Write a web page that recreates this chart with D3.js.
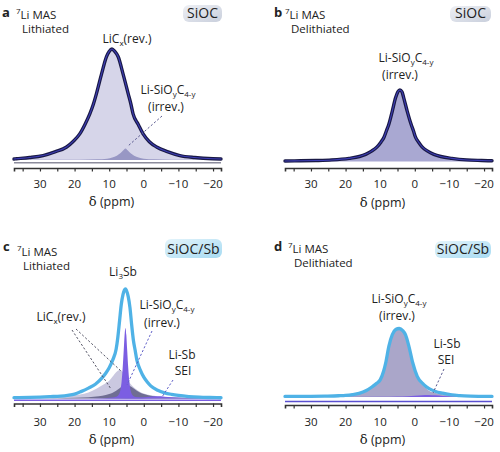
<!DOCTYPE html>
<html><head><meta charset="utf-8">
<script src="https://cdn.jsdelivr.net/npm/d3@7"></script>
<style>body{margin:0;background:#fff}svg{display:block}text{font-family:'Open Sans',sans-serif;fill:#222}</style>
</head><body><svg id="fig" width="500" height="452"></svg>
<script>
// ---------- data ----------
const ppmDomain = [37.5, -22.3];
const minorTicks = [35, 30, 25, 20, 15, 10, 5, 0, -5, -10, -15, -20];
const majorTicks = [30, 20, 10, 0, -10, -20];
const tickLabels = ["30", "20", "10", "0", "\u221210", "\u221220"];

// panel a : SiOC lithiated  [ppm, intensity]
const aTotal = [[37.5,0.9],[36.8,1.1],[33,2.2],[29.1,4],[25.5,7.5],[22.3,11.7],[20.5,16.5],[18.5,23.5],[17,32],[15.6,41.5],[14.6,50],[13.7,59.6],[12.2,77.6],[10.8,93],[10,97.8],[9.2,100],[8.4,97.8],[7.4,93],[6,77.6],[4.5,59.6],[3.7,50],[3.1,41.5],[1.6,32],[0.2,23.5],[-1.6,16.5],[-3.7,11.7],[-6.8,7.5],[-10.4,4],[-14.7,2.2],[-20,1.1],[-22.3,0.9]];
const aLiCx = [[37.5,0.9],[36.8,1.1],[33,2.2],[29.1,4],[25.5,7.5],[22.3,11.7],[20.5,16.5],[18.5,23.5],[17,32],[15.6,41.5],[14.6,50],[13.7,59.6],[12.2,77.6],[10.8,93],[10,97.8],[9.2,99.6],[8.4,97.2],[7.4,91.5],[6,75.5],[4.5,57.5],[3.7,48],[3.1,39.5],[1.6,30],[0.2,21.8],[-1.6,15.2],[-3.7,10.8],[-6.8,7],[-10.4,3.8],[-14.7,2.1],[-20,1.05],[-22.3,0.85]];
const aLiSiO = [[37.5,0.1],[25,0.2],[18.6,0.3],[13.6,0.6],[10.6,1.2],[9.1,2.2],[7.8,3.8],[6.8,6],[6,8.5],[5.3,10.4],[4.6,8.5],[3.8,6],[2.8,3.8],[1.5,2.2],[0,1.2],[-3,0.6],[-8,0.3],[-15,0.15],[-22.3,0.1]];

// panel b : SiOC delithiated
const bTotal = [[37.5,0.8],[33,1.0],[28.6,1.4],[24,2.2],[19,4.4],[16,7],[14.2,10],[12.5,14.5],[10.9,20.5],[9.8,27],[8.9,34],[8.2,43],[7.5,52],[6.5,70.5],[5.56,89],[4.9,97.5],[4.3,100],[3.7,97.5],[3.2,89],[2.2,70.5],[1.07,52],[0.4,43],[-0.2,34],[-1.1,27],[-2.1,20.5],[-3.7,14.5],[-5.5,10],[-7.5,7],[-10.7,4.4],[-15,2.2],[-19.3,1.4],[-22.3,1.0]];

// panel c : SiOC/Sb lithiated
const cTotal = [[37.5,0.8],[33,1.0],[30,1.3],[27,1.7],[24,2.2],[22,2.9],[20,4.0],[18,6.5],[16,9.5],[14,13],[12,19],[11,23],[10,28],[9,35],[8,45],[7.5,56],[7,71],[6.5,86],[6,95],[5.6,99],[5.3,100],[5,98.5],[4.5,93],[4,83],[3.5,67],[3,53],[2.5,44],[2,35],[1,26],[0,19.5],[-1,15],[-2,11.5],[-4,7.5],[-6,5.2],[-8,3.8],[-10,2.8],[-13,1.8],[-16,1.2],[-19,0.9],[-22.3,0.7]];
const cLiCx = [[37.5,0.3],[30,0.8],[25,1.5],[22,2.3],[20,3],[18.5,3.7],[16,5.5],[13.7,9],[12,12],[10.5,15],[9.8,17],[9,20],[8,24],[7,26],[6,24],[5,19],[4,14],[3,10.5],[2,8],[1,6],[0,4.5],[-2,3],[-4,2],[-7,1.2],[-10,0.8],[-15,0.4],[-22.3,0.2]];
const cLiSiO = [[37.5,0.1],[25,0.3],[20,0.6],[16,1.1],[13,2],[11,3.2],[10,4],[9,5.2],[8,7],[7,9.3],[6,11.5],[5,12.3],[4,11.5],[3,9.3],[2,7],[1,5.2],[0,4],[-2,2.4],[-4,1.4],[-7,0.8],[-12,0.4],[-22.3,0.1]];
const cLi3Sb = [[37.5,0],[20,0.1],[12,0.3],[9,0.8],[8,1.5],[7.5,2.5],[7,5],[6.7,9],[6.4,16],[6.1,28],[5.8,44],[5.55,58],[5.3,64.4],[5.05,58],[4.8,44],[4.5,28],[4.2,16],[3.9,9],[3.6,5],[3.1,2.5],[2.6,1.5],[1.6,0.8],[-1,0.3],[-10,0.1],[-22.3,0]];
const cSEI = [[37.5,0.05],[20,0.1],[10,0.3],[5,0.5],[2,0.8],[0,1.2],[-2,1.7],[-4,2],[-6,1.7],[-8,1.2],[-11,0.7],[-15,0.35],[-22.3,0.15]];

// panel d : SiOC/Sb delithiated
const dTotal = [[37.5,0.8],[34,0.9],[30,1.0],[26,1.3],[22,1.8],[20,2.3],[18,3.5],[16.1,5.4],[14,9.5],[12.3,15],[11,20],[10,25],[9,38],[8.4,50],[7.5,74],[6.5,91],[5.5,98.5],[4.5,100],[3.5,97],[2.7,91],[1.7,74],[0.6,50],[-0.7,30],[-2.6,18],[-4,12.5],[-6,8],[-8,5.5],[-10.7,3],[-13,2],[-16,1.3],[-19,1.0],[-22.3,0.8]];
const dLiSiO = [[37.5,0.8],[34,0.9],[30,1.0],[26,1.3],[22,1.8],[20,2.3],[18,3.5],[16.1,5.4],[14,9.5],[12.3,15],[11,20],[10,25],[9,38],[8.4,50],[7.5,74],[6.5,91],[5.5,98.5],[4.5,100],[3.5,97],[2.7,91],[1.7,73.6],[0.6,49.3],[-0.7,28.5],[-2.6,15.6],[-4,9.6],[-6,5.8],[-8,4],[-10.7,2.2],[-13,1.6],[-16,1.1],[-19,0.9],[-22.3,0.7]];
const dSEI = [[37.5,0],[10,0.3],[5,0.6],[2,1.2],[0,1.8],[-2,2.6],[-4,3],[-6,2.4],[-8,1.6],[-11,0.8],[-15,0.3],[-22.3,0.1]];

// ---------- drawing ----------
const svg = d3.select("#fig");
const defs = svg.append("defs");
const g1 = defs.append("linearGradient").attr("id","gSiOC").attr("x1","0").attr("x2","1").attr("y1","0").attr("y2","1");
g1.append("stop").attr("offset","0").attr("stop-color","#eef0f5");
g1.append("stop").attr("offset","1").attr("stop-color","#c9cfdc");
const g2 = defs.append("linearGradient").attr("id","gSb").attr("x1","0").attr("x2","1").attr("y1","0").attr("y2","1");
g2.append("stop").attr("offset","0").attr("stop-color","#e4f4fb");
g2.append("stop").attr("offset","1").attr("stop-color","#a7dbf2");

const panels = {
  a:{xr:[14,221], base:160,   top:49,    axisY:168,   tickY:188, titleY:206},
  b:{xr:[285,492],base:161.5, top:90,    axisY:168,   tickY:188, titleY:207},
  c:{xr:[14,221], base:398.5, top:289,   axisY:403.5, tickY:426, titleY:444},
  d:{xr:[285,492],base:397,   top:328.5, axisY:405,   tickY:426, titleY:444}
};
Object.values(panels).forEach(p=>{
  p.x = d3.scaleLinear().domain(ppmDomain).range(p.xr);
  p.y = d3.scaleLinear().domain([0,100]).range([p.base,p.top]);
});

function area(p, data, fill, op){
  const gen = d3.area().x(d=>p.x(d[0])).y0(p.y(0)).y1(d=>p.y(d[1])).curve(d3.curveMonotoneX);
  svg.append("path").datum(data).attr("d",gen).attr("fill",fill).attr("fill-opacity",op||1);
}
function line(p, data, stroke, w){
  const gen = d3.line().x(d=>p.x(d[0])).y(d=>p.y(d[1])).curve(d3.curveMonotoneX);
  svg.append("path").datum(data).attr("d",gen).attr("fill","none").attr("stroke",stroke)
    .attr("stroke-width",w).attr("stroke-linejoin","round").attr("stroke-linecap","round");
}
function axis(p){
  const ax = d3.axisBottom(p.x).tickValues(minorTicks).tickSize(3.5).tickFormat("");
  const g = svg.append("g").attr("transform",`translate(0,${p.axisY})`).call(ax);
  g.select(".domain").attr("stroke","#333").attr("stroke-width",1.6);
  g.selectAll(".tick line").attr("stroke","#333").attr("stroke-width",1.2);
  svg.append("g").selectAll("text").data(majorTicks).join("text")
    .attr("x",d=>p.x(d)).attr("y",p.tickY).attr("text-anchor","middle")
    .attr("font-size",11.5).text((d,i)=>tickLabels[i]);
  const cx = (p.xr[0]+p.xr[1])/2 - 6;
  const t = svg.append("text").attr("x",cx).attr("y",p.titleY).attr("text-anchor","middle").attr("font-size",12.5);
  t.append("tspan").attr("font-family","'DejaVu Serif',serif").attr("font-size",13).text("\u03b4");
  t.append("tspan").text(" (ppm)");
}
function rich(x, y, parts, size, anchor){
  const t = svg.append("text").attr("x",x).attr("y",y).attr("font-size",size||12).attr("text-anchor",anchor||"middle");
  let shift = 0;
  parts.forEach(pt=>{
    const [s, kind] = pt;
    const target = kind==="sub"?3:(kind==="sup"?-5:0);
    const ts = t.append("tspan").attr("dy", target-shift).text(s);
    if(kind) ts.attr("font-size", 8);
    shift = target;
  });
  return t;
}
function header(letter, lx, ly, line2, tx, ty){
  svg.append("text").attr("x",lx).attr("y",ly).attr("font-family","'Liberation Sans',Arial,sans-serif")
    .attr("font-weight","bold").attr("font-size",13).text(letter);
  rich(tx, ty, [["7","sup"],["Li MAS",null]], 11.5, "start");
  svg.append("text").attr("x",tx+6).attr("y",ty+13.5).attr("font-size",11.5).text(line2);
}
function badge(x, y, w, h, label, grad){
  svg.append("rect").attr("x",x).attr("y",y).attr("width",w).attr("height",h).attr("rx",6).attr("fill",`url(#${grad})`);
  svg.append("text").attr("x",x+w/2).attr("y",y+h-4).attr("text-anchor","middle").attr("font-size",14).text(label);
}
function pointer(x1,y1,x2,y2,color){
  svg.append("line").attr("x1",x1).attr("y1",y1).attr("x2",x2).attr("y2",y2)
    .attr("stroke",color).attr("stroke-width",1).attr("stroke-dasharray","2.2,2");
}
const navy="#191945", navyIn="#3d3db4", blue="#4fb2e6", purple="#7b5ee2";
const liSiO = [["Li-SiO",null],["y","sub"],["C",null],["4-y","sub"]];

// ---- panel a ----
let p = panels.a;
svg.append("line").attr("x1",p.xr[0]).attr("x2",p.xr[1]).attr("y1",162.8).attr("y2",162.8).attr("stroke","#8c8c9c").attr("stroke-width",1.6);
area(p, aLiCx, "#d6d5e9");
area(p, aLiSiO, "#9593c2", 0.95);
line(p, aTotal, navy, 3.4);
line(p, aTotal, navyIn, 1.1);
axis(p);
header("a", 2, 17, "Lithiated", 16, 19);
badge(183, 5, 39, 17, "SiOC", "gSiOC");
rich(127, 43, [["LiC",null],["x","sub"],["(rev.)",null]]);
rich(168, 94, liSiO);
rich(166, 111, [["(irrev.)",null]]);
pointer(162,116,128,146,"#5a5a90");

// ---- panel b ----
p = panels.b;
area(p, bTotal, "#a9a8d2");
line(p, bTotal, navy, 3.4);
line(p, bTotal, navyIn, 1.1);
axis(p);
header("b", 274, 17, "Delithiated", 285, 19);
badge(450, 6, 41, 16, "SiOC", "gSiOC");
rich(406, 61.5, liSiO);
rich(400, 78.5, [["(irrev.)",null]]);

// ---- panel c ----
p = panels.c;
svg.append("line").attr("x1",p.xr[0]).attr("x2",p.xr[1]).attr("y1",400.3).attr("y2",400.3).attr("stroke",purple).attr("stroke-width",1.5);
area(p, cLiCx, "#cac8e0");
area(p, cLiSiO, "#6f6d93");
area(p, cLi3Sb, purple);
area(p, cSEI, purple);
line(p, cTotal, blue, 3.3);
axis(p);
header("c", 3, 251, "Lithiated", 17, 256);
badge(165, 239, 57, 19, "SiOC/Sb", "gSb");
rich(123, 276, [["Li",null],["3","sub"],["Sb",null]]);
rich(61, 321, [["LiC",null],["x","sub"],["(rev.)",null]]);
rich(167, 309, liSiO);
rich(162, 327, [["(irrev.)",null]]);
rich(182, 359, [["Li-Sb",null]]);
rich(183, 375, [["SEI",null]]);
pointer(72,330,111,389,"#555566");
pointer(76,329,121,371,"#555566");
pointer(152,331,127,385,"#6060c8");
pointer(173,380,162,397,"#6060c8");

// ---- panel d ----
p = panels.d;
svg.append("line").attr("x1",p.xr[0]).attr("x2",p.xr[1]).attr("y1",401.5).attr("y2",401.5).attr("stroke","#5a4fd0").attr("stroke-width",1.4);
area(p, dLiSiO, "#aaa6c9");
area(p, dSEI, purple);
line(p, dTotal, blue, 3.3);
axis(p);
header("d", 274, 251, "Delithiated", 288, 253);
badge(435, 241, 56, 17, "SiOC/Sb", "gSb");
rich(399, 303, liSiO);
rich(397, 320, [["(irrev.)",null]]);
rich(447, 347.5, [["Li-Sb",null]]);
rich(446, 363.5, [["SEI",null]]);
pointer(444,369,433,393,"#5a5a90");
</script></body></html>
